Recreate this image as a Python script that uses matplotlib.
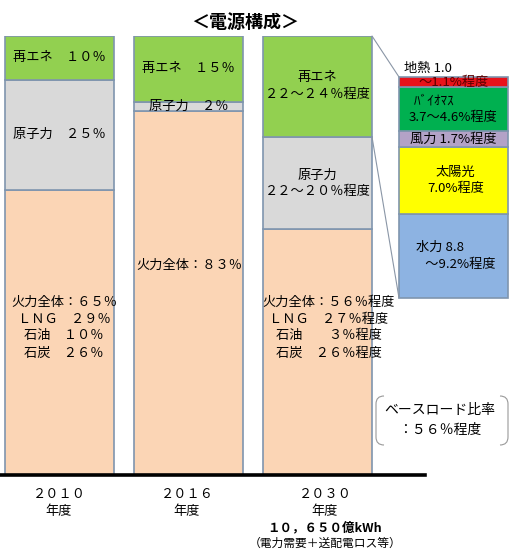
import matplotlib
matplotlib.use('Agg')
import matplotlib.pyplot as plt
from matplotlib.patches import ConnectionPatch, PathPatch
from matplotlib.path import Path

plt.rcParams['font.family'] = ['Noto Sans CJK JP', 'DejaVu Sans']

W, H = 518, 557

# --- data ---
years = ['２０１０', '２０１６', '２０３０']
renew = [10, 15, 23]      # 再エネ (2030: 22~24%)
nuclear = [25, 2, 21]     # 原子力 (2030: 22~20%)
thermal = [65, 83, 56]    # 火力全体

renew_labels = [['再エネ　１０％'], ['再エネ　１５％'], ['再エネ', '２２～２４％程度']]
nuclear_labels = [['原子力　２５％'], ['原子力　２％'], ['原子力', '２２～２０％程度']]
thermal_labels = [['火力全体：６５％', 'ＬＮＧ　２９％', '石油　１０％', '石炭　２６％'],
                  ['火力全体：８３％'],
                  ['火力全体：５６％程度', 'ＬＮＧ　２７％程度', '石油　　３％程度', '石炭　２６％程度']]

# 2030 renewables breakdown, bottom to top
renew_parts = ['水力', '太陽光', '風力', 'バイオマス', '地熱']
renew_vals = [8.8, 7.0, 1.7, 4.6, 1.1]
renew_colors = ['#8db3e2', '#ffff00', '#b3a2c7', '#00b050', '#e8121a']

edge = '#7f95ae'
c_renew, c_nuc, c_therm = '#92d050', '#d9d9d9', '#fbd5b5'

fig = plt.figure(figsize=(W / 100, H / 100), dpi=100)


def px(x, y):
    return x / W, 1 - y / H


def label(x, y, s, size=9.5, ha='center', **kw):
    fig.text(*px(x, y), s, fontsize=size, ha=ha, va='center', **kw)


def stack(axis, x, y, lines, dy, size=9.5, **kw):
    # lines centred on y (data coords), dy = line step in pixels
    n = len(lines)
    for i, s in enumerate(lines):
        off = ((n - 1) / 2 - i) * dy
        axis.annotate(s, (x, y), xytext=(0, off * 0.72), textcoords='offset points',
                      ha='center', va='center', fontsize=size, **kw)


# main stacked bars
ax = fig.add_axes([0, 82 / H, 1, 439 / H])
ax.set_xlim(-0.461, 3.554)
ax.set_ylim(0, 100)
ax.axis('off')
xs = list(range(len(years)))
width = 0.845
bot_nuc = thermal
bot_ren = [t + n for t, n in zip(thermal, nuclear)]
ax.bar(xs, thermal, width, color=c_therm, edgecolor=edge, lw=1.2)
ax.bar(xs, nuclear, width, bottom=bot_nuc, color=c_nuc, edgecolor=edge, lw=1.2)
ax.bar(xs, renew, width, bottom=bot_ren, color=c_renew, edgecolor=edge, lw=1.2)
ax.axhline(0, xmin=0, xmax=425 / W, color='black', lw=2.6, clip_on=False)

for i in xs:
    stack(ax, i, bot_ren[i] + renew[i] / 2, renew_labels[i], 17)
    stack(ax, i, bot_nuc[i] + nuclear[i] / 2, nuclear_labels[i], 16)

# thermal labels sit in the upper part of the bar
therm_pos = [(64, 302), (189, 265), (329, 302)]
for (cx, cy), lines in zip(therm_pos, thermal_labels):
    for k, s in enumerate(lines):
        label(cx, cy + k * 17, s)

# breakdown of 2030 renewables
bx = fig.add_axes([399 / W, (H - 298) / H, 109 / W, 221 / H])
total = sum(renew_vals)
bx.set_xlim(0, 1)
bx.set_ylim(0, total)
bx.axis('off')
mids = []
bottom = 0
for v, c in zip(renew_vals, renew_colors):
    bx.bar(0.5, v, 1, bottom=bottom, color=c, edgecolor=edge, lw=1.2, clip_on=False)
    mids.append(bottom + v / 2)
    bottom += v

right = 2 + width / 2
for ya, yb in [(100, total), (100 - renew[2], 0)]:
    con = ConnectionPatch(xyA=(right, ya), coordsA=ax.transData,
                          xyB=(0, yb), coordsB=bx.transData,
                          color='#8a96a6', lw=0.8)
    fig.add_artist(con)

stack(bx, 0.5, mids[0], ['水力 8.8　　', '　～9.2%程度'], 17)
stack(bx, 0.52, mids[1], ['太陽光', '7.0%程度'], 16)
stack(bx, 0.5, mids[2], ['風力 1.7%程度'], 16)
stack(bx, 0.5, mids[3], ['ﾊﾞｲｵﾏｽ　　　', '3.7～4.6%程度'], 17)
label(404, 68, '地熱 1.0', ha='left')
stack(bx, 0.5, mids[4], ['～1.1%程度'], 16, color='#5a0000')

# title
label(245, 22, '＜電源構成＞', size=13, weight='bold')

# base load box
label(440, 410, 'ベースロード比率', size=10)
label(440, 430, '：５６％程度', size=10)
x0, x1, y0, y1, r = 376, 508, 396, 445, 8
for xa, d in [(x0, 1), (x1, -1)]:
    verts = [px(xa + d * r, y0), px(xa, y0), px(xa, y0 + r),
             px(xa, y1 - r), px(xa, y1), px(xa + d * r, y1)]
    codes = [Path.MOVETO, Path.CURVE3, Path.CURVE3,
             Path.LINETO, Path.CURVE3, Path.CURVE3]
    fig.add_artist(PathPatch(Path(verts, codes), fill=False, ec='#999999',
                             lw=0.8, transform=fig.transFigure))

# x labels
for cx, yr in zip([59, 187, 325], years):
    label(cx, 495, yr)
    label(cx, 511, '年度')
label(325, 528, '１０，６５０億kWh', size=9, weight='bold')
label(325, 543, '（電力需要＋送配電ロス等）', size=8.5)

fig.savefig('out.png', dpi=100)
